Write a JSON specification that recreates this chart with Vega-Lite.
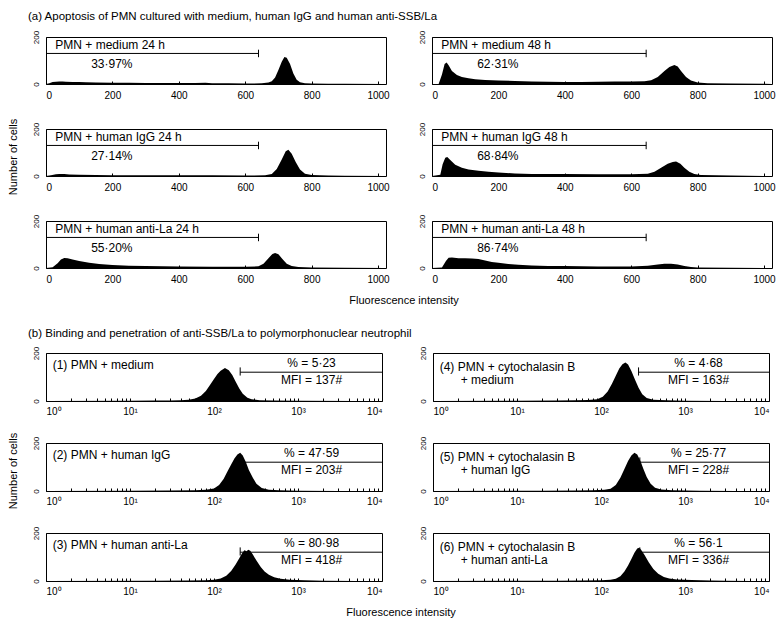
{
  "$schema": "https://vega.github.io/schema/vega-lite/v6.json",
  "background": "white",
  "padding": {"left": 7, "top": 11, "right": 2, "bottom": 0},
  "config": {
    "font": "Liberation Sans",
    "view": {"stroke": "black", "strokeWidth": 1},
    "axis": {"domainColor": "black", "tickColor": "black", "labelColor": "black", "grid": false, "labelFont": "Liberation Sans", "domain": false},
    "text": {"font": "Liberation Sans", "color": "black"},
    "concat": {"spacing": 22}
  },
  "datasets": {
    "a": [
      {"r":1,"c":1,"k":"t","label":"PMN + medium 24 h","pct":"33·97%","glo":0,"ghi":640},
      {"r":1,"c":2,"k":"t","label":"PMN + medium 48 h","pct":"62·31%","glo":0,"ghi":645},
      {"r":2,"c":1,"k":"t","label":"PMN + human IgG 24 h","pct":"27·14%","glo":0,"ghi":640},
      {"r":2,"c":2,"k":"t","label":"PMN + human IgG 48 h","pct":"68·84%","glo":0,"ghi":645},
      {"r":3,"c":1,"k":"t","label":"PMN + human anti-La 24 h","pct":"55·20%","glo":0,"ghi":640},
      {"r":3,"c":2,"k":"t","label":"PMN + human anti-La 48 h","pct":"86·74%","glo":0,"ghi":645},
      {"r":1,"c":1,"k":"h","x":0,"y":0},{"r":1,"c":1,"k":"h","x":10,"y":3},{"r":1,"c":1,"k":"h","x":20,"y":8},{"r":1,"c":1,"k":"h","x":30,"y":10},{"r":1,"c":1,"k":"h","x":40,"y":11},{"r":1,"c":1,"k":"h","x":50,"y":11},{"r":1,"c":1,"k":"h","x":60,"y":10},{"r":1,"c":1,"k":"h","x":80,"y":9},{"r":1,"c":1,"k":"h","x":100,"y":8},{"r":1,"c":1,"k":"h","x":120,"y":7},{"r":1,"c":1,"k":"h","x":150,"y":6},{"r":1,"c":1,"k":"h","x":200,"y":5},{"r":1,"c":1,"k":"h","x":250,"y":5},{"r":1,"c":1,"k":"h","x":300,"y":4},{"r":1,"c":1,"k":"h","x":350,"y":4},{"r":1,"c":1,"k":"h","x":400,"y":4},{"r":1,"c":1,"k":"h","x":450,"y":4},{"r":1,"c":1,"k":"h","x":480,"y":5},{"r":1,"c":1,"k":"h","x":500,"y":3},{"r":1,"c":1,"k":"h","x":550,"y":3},{"r":1,"c":1,"k":"h","x":600,"y":2},{"r":1,"c":1,"k":"h","x":650,"y":3},{"r":1,"c":1,"k":"h","x":670,"y":6},{"r":1,"c":1,"k":"h","x":680,"y":12},{"r":1,"c":1,"k":"h","x":690,"y":28},{"r":1,"c":1,"k":"h","x":700,"y":60},{"r":1,"c":1,"k":"h","x":710,"y":95},{"r":1,"c":1,"k":"h","x":718,"y":115},{"r":1,"c":1,"k":"h","x":725,"y":112},{"r":1,"c":1,"k":"h","x":735,"y":85},{"r":1,"c":1,"k":"h","x":745,"y":45},{"r":1,"c":1,"k":"h","x":755,"y":18},{"r":1,"c":1,"k":"h","x":765,"y":7},{"r":1,"c":1,"k":"h","x":780,"y":3},{"r":1,"c":1,"k":"h","x":800,"y":2},{"r":1,"c":1,"k":"h","x":850,"y":1},{"r":1,"c":1,"k":"h","x":900,"y":1},{"r":1,"c":1,"k":"h","x":1023,"y":0},
      {"r":1,"c":2,"k":"h","x":0,"y":0},{"r":1,"c":2,"k":"h","x":20,"y":0},{"r":1,"c":2,"k":"h","x":30,"y":40},{"r":1,"c":2,"k":"h","x":38,"y":85},{"r":1,"c":2,"k":"h","x":44,"y":92},{"r":1,"c":2,"k":"h","x":50,"y":80},{"r":1,"c":2,"k":"h","x":60,"y":55},{"r":1,"c":2,"k":"h","x":75,"y":38},{"r":1,"c":2,"k":"h","x":90,"y":30},{"r":1,"c":2,"k":"h","x":110,"y":24},{"r":1,"c":2,"k":"h","x":130,"y":20},{"r":1,"c":2,"k":"h","x":160,"y":17},{"r":1,"c":2,"k":"h","x":200,"y":15},{"r":1,"c":2,"k":"h","x":250,"y":13},{"r":1,"c":2,"k":"h","x":300,"y":11},{"r":1,"c":2,"k":"h","x":350,"y":10},{"r":1,"c":2,"k":"h","x":400,"y":9},{"r":1,"c":2,"k":"h","x":450,"y":9},{"r":1,"c":2,"k":"h","x":500,"y":10},{"r":1,"c":2,"k":"h","x":550,"y":11},{"r":1,"c":2,"k":"h","x":600,"y":11},{"r":1,"c":2,"k":"h","x":640,"y":12},{"r":1,"c":2,"k":"h","x":660,"y":16},{"r":1,"c":2,"k":"h","x":680,"y":30},{"r":1,"c":2,"k":"h","x":700,"y":55},{"r":1,"c":2,"k":"h","x":715,"y":72},{"r":1,"c":2,"k":"h","x":730,"y":81},{"r":1,"c":2,"k":"h","x":740,"y":75},{"r":1,"c":2,"k":"h","x":750,"y":55},{"r":1,"c":2,"k":"h","x":765,"y":30},{"r":1,"c":2,"k":"h","x":780,"y":15},{"r":1,"c":2,"k":"h","x":800,"y":6},{"r":1,"c":2,"k":"h","x":830,"y":3},{"r":1,"c":2,"k":"h","x":900,"y":2},{"r":1,"c":2,"k":"h","x":1000,"y":1},{"r":1,"c":2,"k":"h","x":1023,"y":0},
      {"r":2,"c":1,"k":"h","x":0,"y":0},{"r":2,"c":1,"k":"h","x":15,"y":3},{"r":2,"c":1,"k":"h","x":30,"y":7},{"r":2,"c":1,"k":"h","x":40,"y":9},{"r":2,"c":1,"k":"h","x":55,"y":8},{"r":2,"c":1,"k":"h","x":70,"y":6},{"r":2,"c":1,"k":"h","x":100,"y":5},{"r":2,"c":1,"k":"h","x":150,"y":4},{"r":2,"c":1,"k":"h","x":200,"y":3},{"r":2,"c":1,"k":"h","x":300,"y":3},{"r":2,"c":1,"k":"h","x":400,"y":3},{"r":2,"c":1,"k":"h","x":500,"y":3},{"r":2,"c":1,"k":"h","x":600,"y":2},{"r":2,"c":1,"k":"h","x":660,"y":3},{"r":2,"c":1,"k":"h","x":680,"y":8},{"r":2,"c":1,"k":"h","x":695,"y":30},{"r":2,"c":1,"k":"h","x":710,"y":70},{"r":2,"c":1,"k":"h","x":722,"y":105},{"r":2,"c":1,"k":"h","x":730,"y":112},{"r":2,"c":1,"k":"h","x":740,"y":95},{"r":2,"c":1,"k":"h","x":752,"y":60},{"r":2,"c":1,"k":"h","x":765,"y":28},{"r":2,"c":1,"k":"h","x":780,"y":10},{"r":2,"c":1,"k":"h","x":800,"y":4},{"r":2,"c":1,"k":"h","x":850,"y":2},{"r":2,"c":1,"k":"h","x":900,"y":1},{"r":2,"c":1,"k":"h","x":1023,"y":0},
      {"r":2,"c":2,"k":"h","x":0,"y":0},{"r":2,"c":2,"k":"h","x":25,"y":5},{"r":2,"c":2,"k":"h","x":32,"y":50},{"r":2,"c":2,"k":"h","x":40,"y":78},{"r":2,"c":2,"k":"h","x":46,"y":81},{"r":2,"c":2,"k":"h","x":55,"y":68},{"r":2,"c":2,"k":"h","x":70,"y":48},{"r":2,"c":2,"k":"h","x":90,"y":35},{"r":2,"c":2,"k":"h","x":110,"y":28},{"r":2,"c":2,"k":"h","x":140,"y":22},{"r":2,"c":2,"k":"h","x":170,"y":18},{"r":2,"c":2,"k":"h","x":200,"y":15},{"r":2,"c":2,"k":"h","x":250,"y":11},{"r":2,"c":2,"k":"h","x":300,"y":9},{"r":2,"c":2,"k":"h","x":400,"y":8},{"r":2,"c":2,"k":"h","x":500,"y":7},{"r":2,"c":2,"k":"h","x":600,"y":7},{"r":2,"c":2,"k":"h","x":650,"y":10},{"r":2,"c":2,"k":"h","x":670,"y":18},{"r":2,"c":2,"k":"h","x":690,"y":35},{"r":2,"c":2,"k":"h","x":710,"y":52},{"r":2,"c":2,"k":"h","x":725,"y":60},{"r":2,"c":2,"k":"h","x":735,"y":62},{"r":2,"c":2,"k":"h","x":748,"y":52},{"r":2,"c":2,"k":"h","x":760,"y":35},{"r":2,"c":2,"k":"h","x":775,"y":18},{"r":2,"c":2,"k":"h","x":790,"y":8},{"r":2,"c":2,"k":"h","x":810,"y":4},{"r":2,"c":2,"k":"h","x":900,"y":2},{"r":2,"c":2,"k":"h","x":1023,"y":0},
      {"r":3,"c":1,"k":"h","x":0,"y":0},{"r":3,"c":1,"k":"h","x":20,"y":3},{"r":3,"c":1,"k":"h","x":35,"y":20},{"r":3,"c":1,"k":"h","x":45,"y":36},{"r":3,"c":1,"k":"h","x":55,"y":43},{"r":3,"c":1,"k":"h","x":65,"y":41},{"r":3,"c":1,"k":"h","x":80,"y":36},{"r":3,"c":1,"k":"h","x":100,"y":30},{"r":3,"c":1,"k":"h","x":130,"y":22},{"r":3,"c":1,"k":"h","x":160,"y":17},{"r":3,"c":1,"k":"h","x":200,"y":13},{"r":3,"c":1,"k":"h","x":250,"y":10},{"r":3,"c":1,"k":"h","x":300,"y":8},{"r":3,"c":1,"k":"h","x":400,"y":6},{"r":3,"c":1,"k":"h","x":500,"y":5},{"r":3,"c":1,"k":"h","x":600,"y":5},{"r":3,"c":1,"k":"h","x":640,"y":7},{"r":3,"c":1,"k":"h","x":655,"y":18},{"r":3,"c":1,"k":"h","x":670,"y":42},{"r":3,"c":1,"k":"h","x":682,"y":60},{"r":3,"c":1,"k":"h","x":690,"y":64},{"r":3,"c":1,"k":"h","x":700,"y":58},{"r":3,"c":1,"k":"h","x":712,"y":38},{"r":3,"c":1,"k":"h","x":725,"y":18},{"r":3,"c":1,"k":"h","x":740,"y":8},{"r":3,"c":1,"k":"h","x":760,"y":4},{"r":3,"c":1,"k":"h","x":800,"y":2},{"r":3,"c":1,"k":"h","x":900,"y":1},{"r":3,"c":1,"k":"h","x":1023,"y":0},
      {"r":3,"c":2,"k":"h","x":0,"y":0},{"r":3,"c":2,"k":"h","x":30,"y":2},{"r":3,"c":2,"k":"h","x":42,"y":30},{"r":3,"c":2,"k":"h","x":50,"y":44},{"r":3,"c":2,"k":"h","x":60,"y":45},{"r":3,"c":2,"k":"h","x":80,"y":42},{"r":3,"c":2,"k":"h","x":100,"y":42},{"r":3,"c":2,"k":"h","x":120,"y":40},{"r":3,"c":2,"k":"h","x":140,"y":38},{"r":3,"c":2,"k":"h","x":160,"y":32},{"r":3,"c":2,"k":"h","x":180,"y":26},{"r":3,"c":2,"k":"h","x":200,"y":22},{"r":3,"c":2,"k":"h","x":230,"y":17},{"r":3,"c":2,"k":"h","x":260,"y":14},{"r":3,"c":2,"k":"h","x":300,"y":11},{"r":3,"c":2,"k":"h","x":350,"y":9},{"r":3,"c":2,"k":"h","x":400,"y":8},{"r":3,"c":2,"k":"h","x":450,"y":7},{"r":3,"c":2,"k":"h","x":500,"y":6},{"r":3,"c":2,"k":"h","x":550,"y":6},{"r":3,"c":2,"k":"h","x":600,"y":6},{"r":3,"c":2,"k":"h","x":650,"y":10},{"r":3,"c":2,"k":"h","x":680,"y":15},{"r":3,"c":2,"k":"h","x":700,"y":18},{"r":3,"c":2,"k":"h","x":720,"y":18},{"r":3,"c":2,"k":"h","x":740,"y":15},{"r":3,"c":2,"k":"h","x":760,"y":8},{"r":3,"c":2,"k":"h","x":780,"y":4},{"r":3,"c":2,"k":"h","x":800,"y":2},{"r":3,"c":2,"k":"h","x":900,"y":1},{"r":3,"c":2,"k":"h","x":1023,"y":0}
    ],
    "b": [
      {"r":1,"c":1,"k":"t","l1":"(1) PMN + medium","l2":"","pct":"% = 5·23","mfi":"MFI = 137#","glo":205,"ghi":10000},
      {"r":2,"c":1,"k":"t","l1":"(2) PMN + human IgG","l2":"","pct":"% = 47·59","mfi":"MFI = 203#","glo":205,"ghi":10000},
      {"r":3,"c":1,"k":"t","l1":"(3) PMN + human anti-La","l2":"","pct":"% = 80·98","mfi":"MFI = 418#","glo":205,"ghi":10000},
      {"r":1,"c":2,"k":"t","l1":"(4) PMN + cytochalasin B","l2":"+ medium","pct":"% = 4·68","mfi":"MFI = 163#","glo":280,"ghi":10000},
      {"r":2,"c":2,"k":"t","l1":"(5) PMN + cytochalasin B","l2":"+ human IgG","pct":"% = 25·77","mfi":"MFI = 228#","glo":290,"ghi":10000},
      {"r":3,"c":2,"k":"t","l1":"(6) PMN + cytochalasin B","l2":"+ human anti-La","pct":"% = 56·1","mfi":"MFI = 336#","glo":290,"ghi":10000},
      {"r":1,"c":1,"k":"h","x":1,"y":0},{"r":1,"c":1,"k":"h","x":10,"y":1},{"r":1,"c":1,"k":"h","x":20,"y":2},{"r":1,"c":1,"k":"h","x":30,"y":2},{"r":1,"c":1,"k":"h","x":40,"y":3},{"r":1,"c":1,"k":"h","x":50,"y":5},{"r":1,"c":1,"k":"h","x":60,"y":10},{"r":1,"c":1,"k":"h","x":70,"y":22},{"r":1,"c":1,"k":"h","x":80,"y":42},{"r":1,"c":1,"k":"h","x":90,"y":68},{"r":1,"c":1,"k":"h","x":100,"y":92},{"r":1,"c":1,"k":"h","x":110,"y":112},{"r":1,"c":1,"k":"h","x":120,"y":126},{"r":1,"c":1,"k":"h","x":135,"y":137},{"r":1,"c":1,"k":"h","x":150,"y":128},{"r":1,"c":1,"k":"h","x":165,"y":108},{"r":1,"c":1,"k":"h","x":180,"y":82},{"r":1,"c":1,"k":"h","x":200,"y":52},{"r":1,"c":1,"k":"h","x":220,"y":30},{"r":1,"c":1,"k":"h","x":250,"y":14},{"r":1,"c":1,"k":"h","x":280,"y":7},{"r":1,"c":1,"k":"h","x":350,"y":3},{"r":1,"c":1,"k":"h","x":500,"y":2},{"r":1,"c":1,"k":"h","x":1000,"y":1},{"r":1,"c":1,"k":"h","x":5000,"y":0},{"r":1,"c":1,"k":"h","x":10000,"y":0},
      {"r":2,"c":1,"k":"h","x":1,"y":0},{"r":2,"c":1,"k":"h","x":10,"y":1},{"r":2,"c":1,"k":"h","x":30,"y":2},{"r":2,"c":1,"k":"h","x":60,"y":3},{"r":2,"c":1,"k":"h","x":80,"y":5},{"r":2,"c":1,"k":"h","x":100,"y":10},{"r":2,"c":1,"k":"h","x":115,"y":25},{"r":2,"c":1,"k":"h","x":130,"y":50},{"r":2,"c":1,"k":"h","x":145,"y":82},{"r":2,"c":1,"k":"h","x":160,"y":110},{"r":2,"c":1,"k":"h","x":175,"y":135},{"r":2,"c":1,"k":"h","x":190,"y":152},{"r":2,"c":1,"k":"h","x":205,"y":159},{"r":2,"c":1,"k":"h","x":220,"y":148},{"r":2,"c":1,"k":"h","x":240,"y":120},{"r":2,"c":1,"k":"h","x":260,"y":88},{"r":2,"c":1,"k":"h","x":290,"y":55},{"r":2,"c":1,"k":"h","x":320,"y":30},{"r":2,"c":1,"k":"h","x":370,"y":12},{"r":2,"c":1,"k":"h","x":450,"y":5},{"r":2,"c":1,"k":"h","x":600,"y":3},{"r":2,"c":1,"k":"h","x":1000,"y":1},{"r":2,"c":1,"k":"h","x":3000,"y":0},{"r":2,"c":1,"k":"h","x":10000,"y":0},
      {"r":3,"c":1,"k":"h","x":1,"y":0},{"r":3,"c":1,"k":"h","x":20,"y":1},{"r":3,"c":1,"k":"h","x":50,"y":2},{"r":3,"c":1,"k":"h","x":80,"y":3},{"r":3,"c":1,"k":"h","x":100,"y":5},{"r":3,"c":1,"k":"h","x":120,"y":10},{"r":3,"c":1,"k":"h","x":140,"y":22},{"r":3,"c":1,"k":"h","x":160,"y":42},{"r":3,"c":1,"k":"h","x":180,"y":68},{"r":3,"c":1,"k":"h","x":200,"y":95},{"r":3,"c":1,"k":"h","x":215,"y":115},{"r":3,"c":1,"k":"h","x":230,"y":128},{"r":3,"c":1,"k":"h","x":245,"y":124},{"r":3,"c":1,"k":"h","x":255,"y":130},{"r":3,"c":1,"k":"h","x":270,"y":126},{"r":3,"c":1,"k":"h","x":290,"y":110},{"r":3,"c":1,"k":"h","x":320,"y":85},{"r":3,"c":1,"k":"h","x":360,"y":58},{"r":3,"c":1,"k":"h","x":400,"y":40},{"r":3,"c":1,"k":"h","x":450,"y":26},{"r":3,"c":1,"k":"h","x":520,"y":16},{"r":3,"c":1,"k":"h","x":620,"y":9},{"r":3,"c":1,"k":"h","x":800,"y":5},{"r":3,"c":1,"k":"h","x":1200,"y":3},{"r":3,"c":1,"k":"h","x":2000,"y":1},{"r":3,"c":1,"k":"h","x":5000,"y":0},{"r":3,"c":1,"k":"h","x":10000,"y":0},
      {"r":1,"c":2,"k":"h","x":1,"y":0},{"r":1,"c":2,"k":"h","x":10,"y":1},{"r":1,"c":2,"k":"h","x":30,"y":2},{"r":1,"c":2,"k":"h","x":50,"y":3},{"r":1,"c":2,"k":"h","x":70,"y":4},{"r":1,"c":2,"k":"h","x":90,"y":7},{"r":1,"c":2,"k":"h","x":105,"y":18},{"r":1,"c":2,"k":"h","x":120,"y":40},{"r":1,"c":2,"k":"h","x":135,"y":72},{"r":1,"c":2,"k":"h","x":150,"y":105},{"r":1,"c":2,"k":"h","x":165,"y":135},{"r":1,"c":2,"k":"h","x":180,"y":153},{"r":1,"c":2,"k":"h","x":195,"y":160},{"r":1,"c":2,"k":"h","x":210,"y":152},{"r":1,"c":2,"k":"h","x":230,"y":125},{"r":1,"c":2,"k":"h","x":255,"y":88},{"r":1,"c":2,"k":"h","x":280,"y":55},{"r":1,"c":2,"k":"h","x":310,"y":28},{"r":1,"c":2,"k":"h","x":350,"y":12},{"r":1,"c":2,"k":"h","x":420,"y":5},{"r":1,"c":2,"k":"h","x":600,"y":3},{"r":1,"c":2,"k":"h","x":1000,"y":1},{"r":1,"c":2,"k":"h","x":3000,"y":0},{"r":1,"c":2,"k":"h","x":10000,"y":0},
      {"r":2,"c":2,"k":"h","x":1,"y":0},{"r":2,"c":2,"k":"h","x":20,"y":1},{"r":2,"c":2,"k":"h","x":50,"y":2},{"r":2,"c":2,"k":"h","x":80,"y":3},{"r":2,"c":2,"k":"h","x":110,"y":5},{"r":2,"c":2,"k":"h","x":130,"y":9},{"r":2,"c":2,"k":"h","x":150,"y":25},{"r":2,"c":2,"k":"h","x":170,"y":55},{"r":2,"c":2,"k":"h","x":190,"y":92},{"r":2,"c":2,"k":"h","x":210,"y":125},{"r":2,"c":2,"k":"h","x":230,"y":148},{"r":2,"c":2,"k":"h","x":250,"y":159},{"r":2,"c":2,"k":"h","x":270,"y":152},{"r":2,"c":2,"k":"h","x":295,"y":125},{"r":2,"c":2,"k":"h","x":320,"y":92},{"r":2,"c":2,"k":"h","x":350,"y":58},{"r":2,"c":2,"k":"h","x":390,"y":30},{"r":2,"c":2,"k":"h","x":440,"y":14},{"r":2,"c":2,"k":"h","x":520,"y":6},{"r":2,"c":2,"k":"h","x":700,"y":3},{"r":2,"c":2,"k":"h","x":1500,"y":1},{"r":2,"c":2,"k":"h","x":4000,"y":0},{"r":2,"c":2,"k":"h","x":10000,"y":0},
      {"r":3,"c":2,"k":"h","x":1,"y":0},{"r":3,"c":2,"k":"h","x":30,"y":1},{"r":3,"c":2,"k":"h","x":60,"y":2},{"r":3,"c":2,"k":"h","x":100,"y":3},{"r":3,"c":2,"k":"h","x":130,"y":5},{"r":3,"c":2,"k":"h","x":150,"y":9},{"r":3,"c":2,"k":"h","x":170,"y":20},{"r":3,"c":2,"k":"h","x":190,"y":40},{"r":3,"c":2,"k":"h","x":210,"y":65},{"r":3,"c":2,"k":"h","x":230,"y":92},{"r":3,"c":2,"k":"h","x":250,"y":118},{"r":3,"c":2,"k":"h","x":270,"y":135},{"r":3,"c":2,"k":"h","x":285,"y":139},{"r":3,"c":2,"k":"h","x":300,"y":130},{"r":3,"c":2,"k":"h","x":330,"y":108},{"r":3,"c":2,"k":"h","x":370,"y":78},{"r":3,"c":2,"k":"h","x":420,"y":50},{"r":3,"c":2,"k":"h","x":480,"y":30},{"r":3,"c":2,"k":"h","x":560,"y":17},{"r":3,"c":2,"k":"h","x":650,"y":10},{"r":3,"c":2,"k":"h","x":800,"y":6},{"r":3,"c":2,"k":"h","x":1200,"y":4},{"r":3,"c":2,"k":"h","x":2000,"y":2},{"r":3,"c":2,"k":"h","x":3000,"y":1},{"r":3,"c":2,"k":"h","x":6000,"y":0},{"r":3,"c":2,"k":"h","x":10000,"y":0}
    ]
  },
  "vconcat": [
    {
      "data": {"name": "a"},
      "title": {"text": "(a) Apoptosis of PMN cultured with medium, human IgG and human anti-SSB/La", "anchor": "start", "fontSize": 11.5, "fontWeight": "normal", "font": "Liberation Sans", "dx": 20, "offset": 7},
      "facet": {
        "row": {"field": "r", "type": "ordinal", "title": "Number of cells", "header": {"labels": false, "titleFontSize": 11, "titleFontWeight": "normal", "titleFont": "Liberation Sans", "titlePadding": 2}},
        "column": {"field": "c", "type": "ordinal", "title": "Fluorescence intensity", "header": {"labels": false, "titleOrient": "bottom", "titleFontSize": 11, "titleFontWeight": "normal", "titleFont": "Liberation Sans", "titlePadding": 0}}
      },
      "spacing": {"row": 20, "column": 27},
      "resolve": {"axis": {"x": "independent", "y": "independent"}},
      "spec": {
        "width": 340,
        "height": 47,
        "layer": [
          {
            "transform": [{"filter": "datum.k === 'h'"}],
            "mark": {"type": "area", "color": "black", "interpolate": "linear"},
            "encoding": {
              "x": {"field": "x", "type": "quantitative", "scale": {"domain": [0, 1024], "nice": false, "zero": false},
                "axis": {"title": null, "values": [0,50,100,150,200,250,300,350,400,450,500,550,600,650,700,750,800,850,900,950,1000], "labelExpr": "datum.value % 200 === 0 ? datum.label : ''", "tickSize": -3, "labelPadding": 9, "labelFontSize": 10, "format": "d"}},
              "y": {"field": "y", "type": "quantitative", "scale": {"domain": [0, 200], "nice": false},
                "axis": {"title": null, "values": [0,25,50,75,100,125,150,175,200], "labelExpr": "datum.value === 0 || datum.value === 200 ? datum.label : ''", "tickSize": -3, "labelPadding": 9, "labelFontSize": 8, "labelAngle": -90, "labelAlign": "center", "labelBaseline": "bottom"}}
            }
          },
          {
            "transform": [{"filter": "datum.k === 't'"}],
            "mark": {"type": "rule", "color": "black", "strokeWidth": 1},
            "encoding": {"x": {"field": "glo", "type": "quantitative"}, "x2": {"field": "ghi"}, "y": {"datum": 130}}
          },
          {
            "transform": [{"filter": "datum.k === 't'"}],
            "mark": {"type": "rule", "color": "black", "strokeWidth": 1},
            "encoding": {"x": {"field": "ghi", "type": "quantitative"}, "y": {"datum": 114}, "y2": {"datum": 146}}
          },
          {
            "transform": [{"filter": "datum.k === 't'"}],
            "mark": {"type": "text", "align": "left", "baseline": "middle", "fontSize": 12},
            "encoding": {"x": {"datum": 28}, "y": {"datum": 164}, "text": {"field": "label"}}
          },
          {
            "transform": [{"filter": "datum.k === 't'"}],
            "mark": {"type": "text", "align": "left", "baseline": "middle", "fontSize": 12},
            "encoding": {"x": {"datum": 136}, "y": {"datum": 86}, "text": {"field": "pct"}}
          }
        ]
      }
    },
    {
      "data": {"name": "b"},
      "title": {"text": "(b) Binding and penetration of anti-SSB/La to polymorphonuclear neutrophil", "anchor": "start", "fontSize": 11.5, "fontWeight": "normal", "font": "Liberation Sans", "dx": 20, "offset": 6},
      "facet": {
        "row": {"field": "r", "type": "ordinal", "title": "Number of cells", "header": {"labels": false, "titleFontSize": 11, "titleFontWeight": "normal", "titleFont": "Liberation Sans", "titlePadding": 2}},
        "column": {"field": "c", "type": "ordinal", "title": "Fluorescence intensity", "header": {"labels": false, "titleOrient": "bottom", "titleFontSize": 11, "titleFontWeight": "normal", "titleFont": "Liberation Sans", "titlePadding": 0}}
      },
      "spacing": {"row": 18, "column": 35},
      "resolve": {"axis": {"x": "independent", "y": "independent"}},
      "spec": {
        "width": 336,
        "height": 48,
        "layer": [
          {
            "transform": [{"filter": "datum.k === 'h'"}],
            "mark": {"type": "area", "color": "black", "interpolate": "linear"},
            "encoding": {
              "x": {"field": "x", "type": "quantitative", "scale": {"type": "log", "domain": [1, 10000], "nice": false},
                "axis": {"title": null, "values": [1,2,3,4,5,6,7,8,9,10,20,30,40,50,60,70,80,90,100,200,300,400,500,600,700,800,900,1000,2000,3000,4000,5000,6000,7000,8000,9000,10000], "labelExpr": "datum.value == 1 ? '10⁰' : datum.value == 10 ? '10¹' : datum.value == 100 ? '10²' : datum.value == 1000 ? '10³' : datum.value == 10000 ? '10⁴' : ''", "tickSize": -3, "labelPadding": 8, "labelFontSize": 10}},
              "y": {"field": "y", "type": "quantitative", "scale": {"domain": [0, 200], "nice": false},
                "axis": {"title": null, "values": [0,25,50,75,100,125,150,175,200], "labelExpr": "datum.value === 0 || datum.value === 200 ? datum.label : ''", "tickSize": -3, "labelPadding": 9, "labelFontSize": 8, "labelAngle": -90, "labelAlign": "center", "labelBaseline": "bottom"}}
            }
          },
          {
            "transform": [{"filter": "datum.k === 't'"}],
            "mark": {"type": "rule", "color": "black", "strokeWidth": 1},
            "encoding": {"x": {"field": "glo", "type": "quantitative"}, "x2": {"field": "ghi"}, "y": {"datum": 120}}
          },
          {
            "transform": [{"filter": "datum.k === 't'"}],
            "mark": {"type": "rule", "color": "black", "strokeWidth": 1},
            "encoding": {"x": {"field": "glo", "type": "quantitative"}, "y": {"datum": 106}, "y2": {"datum": 140}}
          },
          {
            "transform": [{"filter": "datum.k === 't' && datum.c === 1"}],
            "mark": {"type": "text", "align": "left", "baseline": "middle", "fontSize": 12},
            "encoding": {"x": {"datum": 1.2}, "y": {"datum": 152}, "text": {"field": "l1"}}
          },
          {
            "transform": [{"filter": "datum.k === 't' && datum.c === 2"}],
            "mark": {"type": "text", "align": "left", "baseline": "middle", "fontSize": 12},
            "encoding": {"x": {"datum": 1.2}, "y": {"datum": 142}, "text": {"field": "l1"}}
          },
          {
            "transform": [{"filter": "datum.k === 't' && datum.c === 2"}],
            "mark": {"type": "text", "align": "left", "baseline": "middle", "fontSize": 12, "dx": 21},
            "encoding": {"x": {"datum": 1.2}, "y": {"datum": 86}, "text": {"field": "l2"}}
          },
          {
            "transform": [{"filter": "datum.k === 't'"}],
            "mark": {"type": "text", "align": "center", "baseline": "middle", "fontSize": 12},
            "encoding": {"x": {"datum": 1450}, "y": {"datum": 158}, "text": {"field": "pct"}}
          },
          {
            "transform": [{"filter": "datum.k === 't'"}],
            "mark": {"type": "text", "align": "center", "baseline": "middle", "fontSize": 12},
            "encoding": {"x": {"datum": 1450}, "y": {"datum": 86}, "text": {"field": "mfi"}}
          }
        ]
      }
    }
  ]
}
